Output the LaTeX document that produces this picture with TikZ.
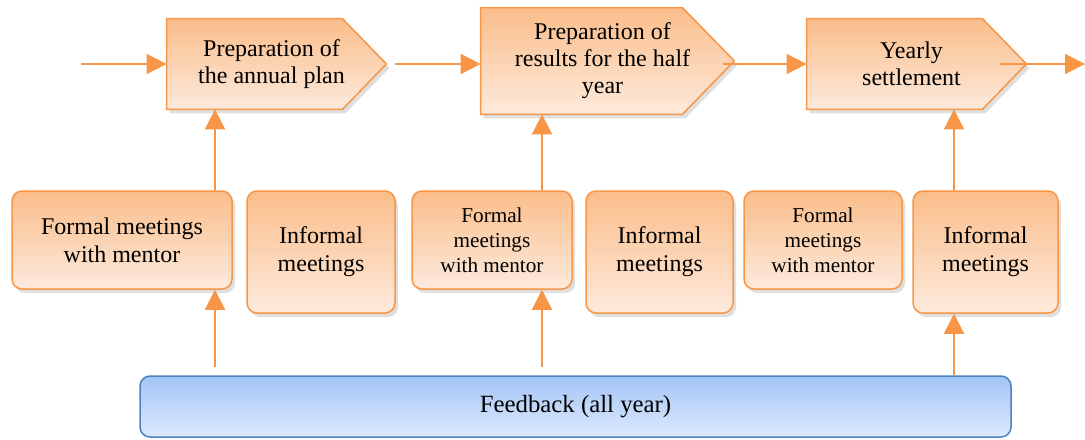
\documentclass[tikz,border=0pt]{standalone}
\usepackage{fontspec}
\setmainfont{Liberation Serif}
\usetikzlibrary{positioning,arrows.meta,shadows,backgrounds}
\definecolor{stageline}{HTML}{F79646}
\definecolor{stagetop}{HTML}{FABD8A}
\definecolor{stagebottom}{HTML}{FDEADC}
\definecolor{fbline}{HTML}{4F81BD}
\definecolor{fbtop}{HTML}{A2C4F7}
\definecolor{fbbottom}{HTML}{DEEAFC}
\begin{document}
\begin{tikzpicture}[
			x=0.5pt,y=-0.5pt,
			flow/.style={-{Triangle[length=10pt,width=10pt]},draw=stageline,line width=1pt},
			softshadow/.style={drop shadow={opacity=0.25,shadow xshift=1.5pt,shadow yshift=-2pt}},
			stage/.style={
				rectangle,
				inner sep=2pt,
				align=center,
				font=\fontsize{12}{13.5}\selectfont
			},
			stageshape/.style={
				draw=stageline,
				line width=0.75pt,
				top color=stagetop,bottom color=stagebottom,
				softshadow
			},
			meeting/.style={
				draw=stageline,
				line width=0.75pt,
				top color=stagetop,bottom color=stagebottom,
				softshadow,
				rectangle,
				rounded corners=5pt,
				align=center,
				inner sep=2pt,
				font=\fontsize{12}{14}\selectfont
			},
			small/.style={font=\fontsize{10.6}{12.5}\selectfont},
			feedback/.style={
				draw=fbline,
				line width=0.75pt,
				top color=fbtop,bottom color=fbbottom,
				rectangle,
				rounded corners=5pt,
				font=\fontsize{12.4}{14}\selectfont
			}
			]
			\useasboundingbox (0,0) rectangle (1085,439);
			% Stages of the year
			\node[stage, minimum width=104.5pt, minimum height=45pt] (P1) at (271.5,64) {Preparation of\\the annual plan};
			\node[stage, minimum width=121.5pt, minimum height=53pt] (P2) at (602.5,61) {Preparation of\\results for the half\\year};
			\node[stage, minimum width=104.5pt, minimum height=45pt] (P3) at (911.5,64) {Yearly\\settlement};
			\begin{pgfonlayer}{background}
				\draw[stageshape] (P1.north west) -- ([xshift=-17pt]P1.north east) -- ([xshift=5pt]P1.east) -- ([xshift=-17pt]P1.south east) -- (P1.south west) -- cycle;
				\draw[stageshape] (P2.north west) -- ([xshift=-21pt]P2.north east) -- ([xshift=5pt]P2.east) -- ([xshift=-21pt]P2.south east) -- (P2.south west) -- cycle;
				\draw[stageshape] (P3.north west) -- ([xshift=-17pt]P3.north east) -- ([xshift=5pt]P3.east) -- ([xshift=-17pt]P3.south east) -- (P3.south west) -- cycle;
			\end{pgfonlayer}
			
			% Meetings
			\node[meeting, minimum width=110pt, minimum height=49pt] (F1) at (122,240) {Formal meetings\\with mentor};
			\node[meeting, minimum width=74pt, minimum height=61pt] (I1) at (321,252) {Informal\\meetings};
			\node[meeting, small, minimum width=80pt, minimum height=49pt] (F2) at (492,240) {Formal\\meetings\\with mentor};
			\node[meeting, minimum width=73.5pt, minimum height=61pt] (I2) at (659.5,252) {Informal\\meetings};
			\node[meeting, small, minimum width=79pt, minimum height=49pt] (F3) at (823,240) {Formal\\meetings\\with mentor};
			\node[meeting, minimum width=72.5pt, minimum height=61pt] (I3) at (985.5,252) {Informal\\meetings};
			
			% Feedback bar
			\node[feedback, minimum width=435.5pt, minimum height=30.5pt] (FB) at (575.5,406.5) {Feedback (all year)};
			
			% Flow along the top
			\coordinate (in) at (81,64);
			\coordinate (out) at (1085,64);
			\draw[flow] (in) -- (P1.west);
			\draw[flow] ([xshift=9.5pt]P1.east) -- ([yshift=-1.5pt]P2.west);
			\draw[flow] ([xshift=-0.5pt,yshift=-1.5pt]P2.east) -- (P3.west);
			\draw[flow] ([xshift=-8pt]P3.east) -- (out);
			
			% Feedback through the meetings into the stages
			\coordinate (a1) at (215,0);
			\coordinate (a2) at (542,0);
			\coordinate (a3) at (954,0);
			\draw[flow, shorten <=4pt] (a1 |- FB.north) -- (a1 |- F1.south);
			\draw[flow] (a1 |- F1.north) -- (a1 |- P1.south);
			\draw[flow, shorten <=4pt] (a2 |- FB.north) -- (a2 |- F2.south);
			\draw[flow] (a2 |- F2.north) -- (a2 |- P2.south);
			\draw[flow] (a3 |- FB.north) -- (a3 |- I3.south);
			\draw[flow] (a3 |- I3.north) -- (a3 |- P3.south);
		\end{tikzpicture}
\end{document}
